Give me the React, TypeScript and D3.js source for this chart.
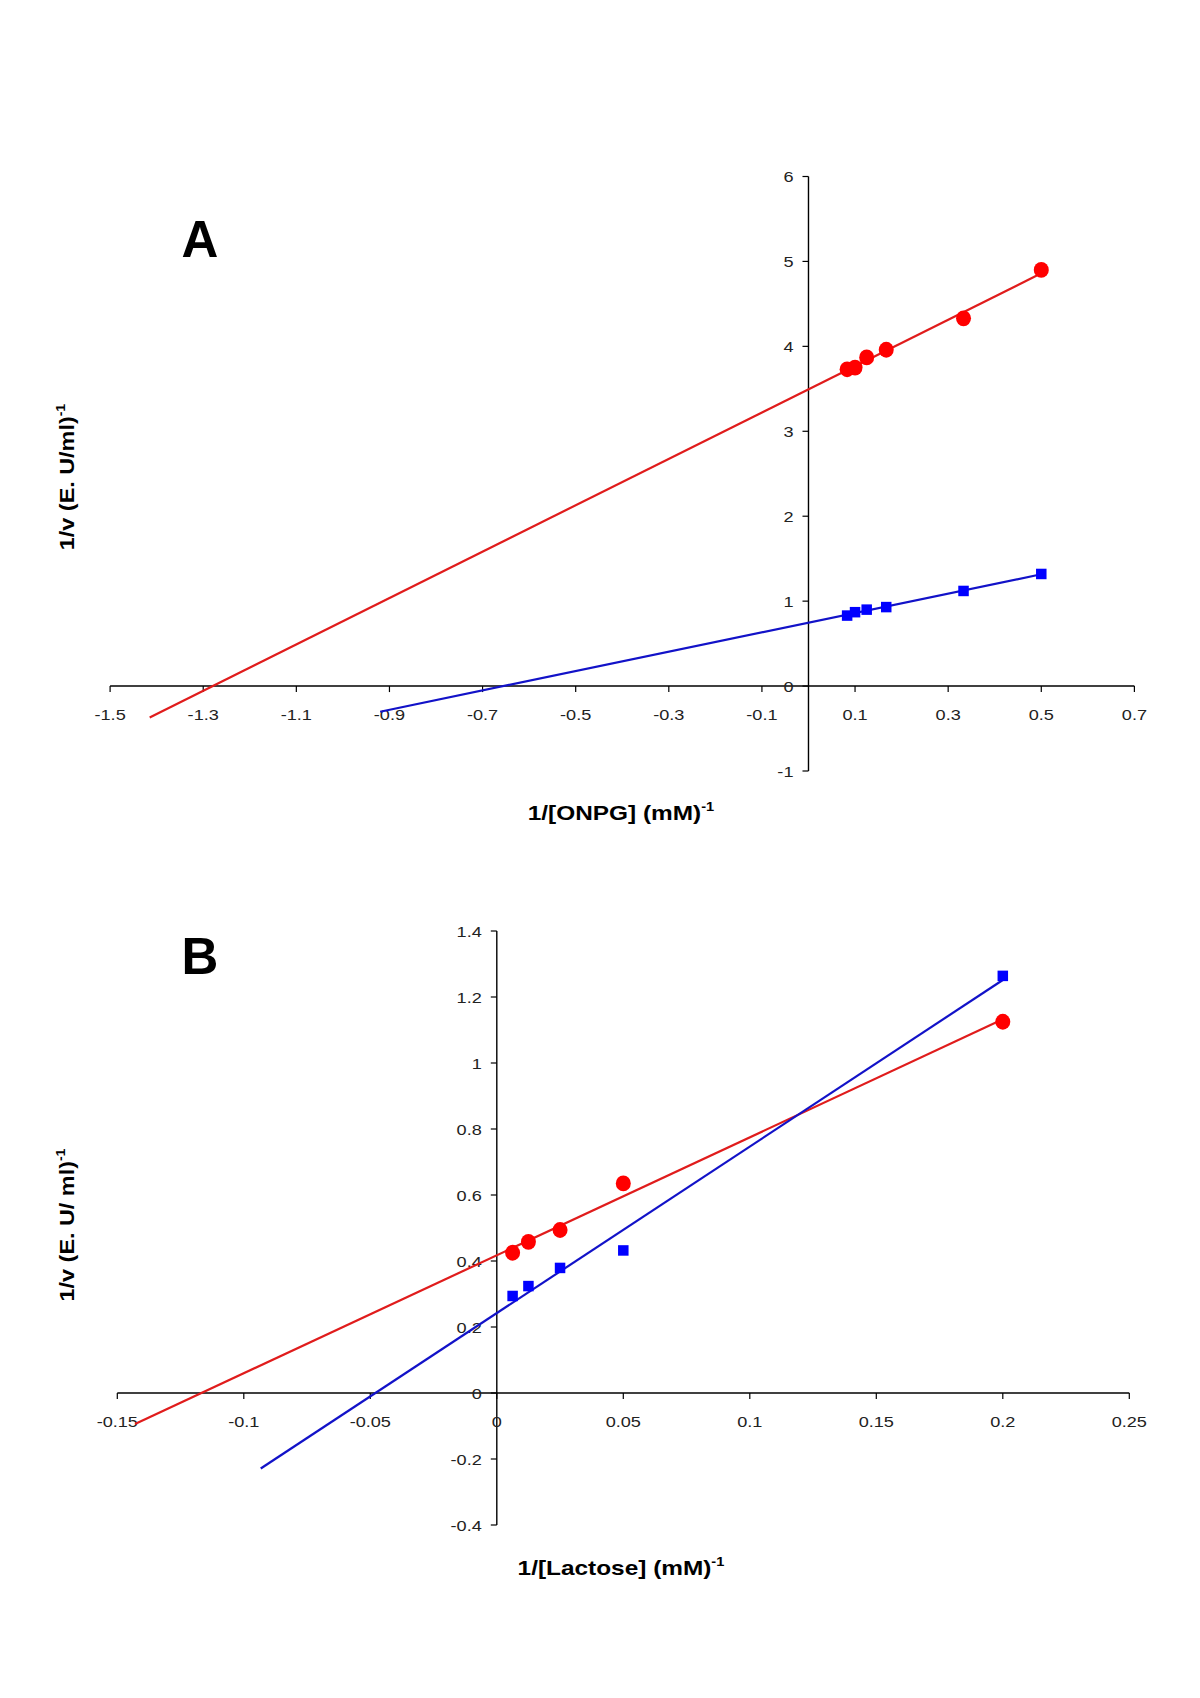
import React from 'react';
import * as d3 from 'd3';

// ---------- Data (panel A: ONPG) ----------
const onpgX = [0.083, 0.1, 0.125, 0.167, 0.333, 0.5];
const onpgRed = [3.73, 3.75, 3.87, 3.96, 4.33, 4.9];
const onpgBlue = [0.83, 0.87, 0.9, 0.93, 1.12, 1.32];
const onpgRedTrendFrom = -1.415;
const onpgBlueTrendFrom = -0.92;
const onpgXTicks = [-1.5, -1.3, -1.1, -0.9, -0.7, -0.5, -0.3, -0.1, 0.1, 0.3, 0.5, 0.7];
const onpgYTicks = [-1, 0, 1, 2, 3, 4, 5, 6];

// ---------- Data (panel B: Lactose) ----------
const lacX = [0.00625, 0.0125, 0.025, 0.05, 0.2];
const lacRed = [0.425, 0.458, 0.494, 0.635, 1.125];
const lacBlue = [0.294, 0.324, 0.379, 0.432, 1.264];
const lacRedTrendFrom = -0.143;
const lacBlueTrendFrom = -0.0933;
const lacXTicks = [-0.15, -0.1, -0.05, 0, 0.05, 0.1, 0.15, 0.2, 0.25];
const lacYTicks = [-0.4, -0.2, 0, 0.2, 0.4, 0.6, 0.8, 1, 1.2, 1.4];

const RED = '#ff0000';
const RED_LINE = '#e01c1c';
const BLUE = '#0000ff';
const BLUE_LINE = '#1212c8';
const FONT = '"Liberation Sans", Arial, Helvetica, sans-serif';

function fit(xs: number[], ys: number[]) {
  const mx = d3.mean(xs) as number;
  const my = d3.mean(ys) as number;
  let sxx = 0, sxy = 0;
  xs.forEach((x, i) => { sxx += (x - mx) ** 2; sxy += (x - mx) * (ys[i] - my); });
  const slope = sxy / sxx;
  return { slope, intercept: my - slope * mx };
}

type PanelProps = {
  letter: string;
  letterX: number;
  letterY: number;
  xDomain: [number, number];
  xRange: [number, number];
  yDomain: [number, number];
  yRange: [number, number];
  xTicks: number[];
  yTicks: number[];
  xs: number[];
  red: number[];
  blue: number[];
  redFrom: number;
  blueFrom: number;
  xLabel: string;
  xLabelX: number;
  xLabelY: number;
  yLabel: string;
  yLabelX: number;
  yLabelY: number;
  radius: number;
  square: number;
};

function Panel(p: PanelProps) {
  const x = d3.scaleLinear().domain(p.xDomain).range(p.xRange);
  const y = d3.scaleLinear().domain(p.yDomain).range(p.yRange);
  const x0 = x(0);
  const y0 = y(0);
  const xMax = d3.max(p.xs) as number;
  const rf = fit(p.xs, p.red);
  const bf = fit(p.xs, p.blue);
  const line = d3.line<[number, number]>().x(d => x(d[0])).y(d => y(d[1]));
  const redPts: [number, number][] = [p.redFrom, xMax].map(v => [v, rf.intercept + rf.slope * v]);
  const bluePts: [number, number][] = [p.blueFrom, xMax].map(v => [v, bf.intercept + bf.slope * v]);
  const tick = 6;
  return (
    <g>
      <text x={p.letterX} y={p.letterY} fontFamily={FONT} fontWeight="bold" fontSize={51} textAnchor="middle" fill="#000">{p.letter}</text>
      {/* axes */}
      <line x1={x(p.xDomain[0])} x2={x(p.xDomain[1])} y1={y0} y2={y0} stroke="#000" strokeWidth={1.4} />
      <line x1={x0} x2={x0} y1={y(p.yDomain[0])} y2={y(p.yDomain[1])} stroke="#000" strokeWidth={1.4} />
      {p.xTicks.map(t => (
        <g key={'xt' + t}>
          <line x1={x(t)} x2={x(t)} y1={y0} y2={y0 + tick} stroke="#000" strokeWidth={1.2} />
          <g transform={`translate(${x(t)},${y0 + 33.5}) scale(1.17,1)`}>
            <text x={0} y={0} textAnchor="middle" fontFamily={FONT} fontSize={15.5} fill="#222">{String(t)}</text>
          </g>
        </g>
      ))}
      {p.yTicks.map(t => (
        <g key={'yt' + t}>
          <line x1={x0 - tick} x2={x0} y1={y(t)} y2={y(t)} stroke="#000" strokeWidth={1.2} />
          <g transform={`translate(${x0 - 15},${y(t) + 5.5}) scale(1.17,1)`}>
            <text x={0} y={0} textAnchor="end" fontFamily={FONT} fontSize={15.5} fill="#222">{String(t)}</text>
          </g>
        </g>
      ))}
      {/* trend lines */}
      <path d={line(redPts) as string} fill="none" stroke={RED_LINE} strokeWidth={2.2} />
      <path d={line(bluePts) as string} fill="none" stroke={BLUE_LINE} strokeWidth={2.2} />
      {/* markers */}
      {p.xs.map((v, i) => (
        <rect key={'b' + i} x={x(v) - p.square / 2} y={y(p.blue[i]) - p.square / 2} width={p.square} height={p.square} fill={BLUE} />
      ))}
      {p.xs.map((v, i) => (
        <ellipse key={'r' + i} cx={x(v)} cy={y(p.red[i])} rx={p.radius} ry={p.radius + 0.4} fill={RED} />
      ))}
      {/* axis titles */}
      <g transform={`translate(${p.xLabelX},${p.xLabelY}) scale(1.22,1)`}>
        <text x={0} y={0} textAnchor="middle" fontFamily={FONT} fontWeight="bold" fontSize={20} fill="#000">
          <tspan>{p.xLabel}</tspan>
          <tspan fontSize={12} dy={-9}>-1</tspan>
        </text>
      </g>
      <g transform={`translate(${p.yLabelX},${p.yLabelY}) rotate(-90) scale(1.17,1)`}>
        <text x={0} y={0} textAnchor="middle" fontFamily={FONT} fontWeight="bold" fontSize={20} fill="#000">
          <tspan>{p.yLabel}</tspan>
          <tspan fontSize={12} dy={-9}>-1</tspan>
        </text>
      </g>
    </g>
  );
}

export default function App() {
  return (
    <svg width={1200} height={1698} viewBox="0 0 1200 1698" style={{ position: 'absolute', left: 0, top: 0, background: '#fff' }}>
      <rect x={0} y={0} width={1200} height={1698} fill="#fff" />
      <Panel
        letter="A" letterX={200} letterY={257}
        xDomain={[-1.5, 0.7]} xRange={[110.1, 1134.4]}
        yDomain={[-1, 6]} yRange={[771, 176.5]}
        xTicks={onpgXTicks} yTicks={onpgYTicks}
        xs={onpgX} red={onpgRed} blue={onpgBlue}
        redFrom={onpgRedTrendFrom} blueFrom={onpgBlueTrendFrom}
        xLabel="1/[ONPG] (mM)" xLabelX={621} xLabelY={820}
        yLabel="1/v (E. U/ml)" yLabelX={74} yLabelY={477}
        radius={7.5} square={10.5}
      />
      <Panel
        letter="B" letterX={200} letterY={974}
        xDomain={[-0.15, 0.25]} xRange={[117.3, 1129.3]}
        yDomain={[-0.4, 1.4]} yRange={[1525, 931]}
        xTicks={lacXTicks} yTicks={lacYTicks}
        xs={lacX} red={lacRed} blue={lacBlue}
        redFrom={lacRedTrendFrom} blueFrom={lacBlueTrendFrom}
        xLabel="1/[Lactose] (mM)" xLabelX={621} xLabelY={1575}
        yLabel="1/v (E. U/ ml)" yLabelX={74} yLabelY={1225}
        radius={7.5} square={10.5}
      />
    </svg>
  );
}
